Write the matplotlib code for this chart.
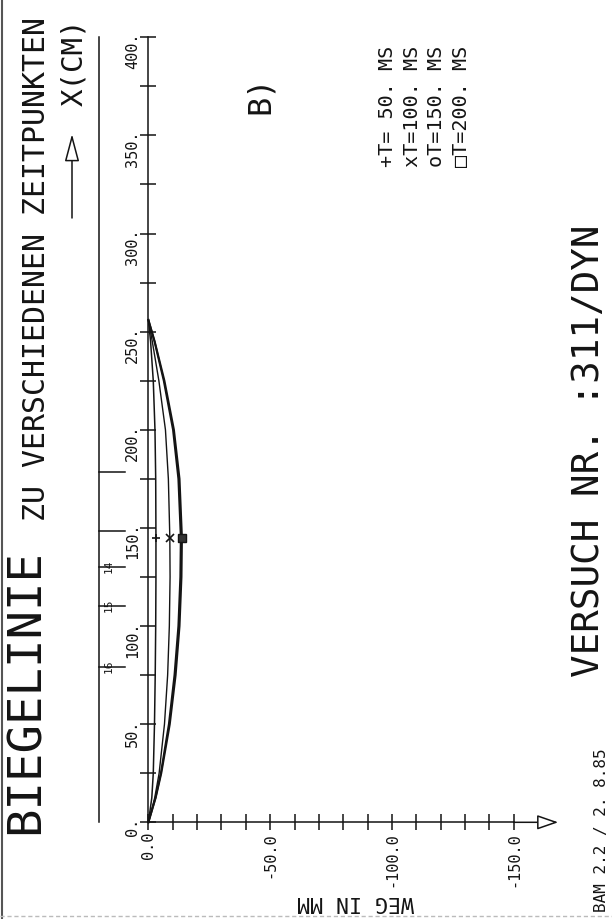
import matplotlib
matplotlib.use('Agg')
import matplotlib.pyplot as plt
from matplotlib import transforms

plt.rcParams['font.family'] = 'DejaVu Sans Mono'
INK = '#141414'

# beam position (cm) and deflection (mm)
X_CM = [0, 12.5, 25, 50, 75, 100, 125, 145, 175, 200, 225, 245, 256]
W_T50 = [0, -1.4, -2.0, -2.5, -2.8, -3.0, -3.1, -3.1, -3.0, -2.7, -2.0, -0.9, 0]
W_T100 = [0, -2.6, -4.4, -6.6, -7.9, -8.6, -8.9, -8.8, -8.2, -7.0, -4.3, -1.6, 0]
W_T150 = [0, -2.9, -5.1, -8.4, -10.7, -12.3, -13.1, -13.3, -12.3, -10.1, -6.3, -2.5, 0]
W_T200 = [0, -3.0, -5.3, -8.8, -11.2, -12.8, -13.6, -13.8, -12.8, -10.5, -6.6, -2.6, 0]

TIMES = [50, 100, 150, 200]
MARK_X = 145
MARK_W = [-3.1, -8.8, -13.3, -13.8]
MARKERS = ['+', 'x', 'o', 's']
LEGEND_SYMBOLS = ['+', 'x', 'o', '\u25a1']

X_TICKS = [0, 50, 100, 150, 200, 250, 300, 350, 400]
X_MINOR = [25, 75, 125, 175, 225, 275, 325, 375]
W_TICKS = [0, -50, -100, -150]
W_MINOR = [-10, -20, -30, -40, -60, -70, -80, -90, -110, -120, -130, -140]

# measuring points marked on the ruler beside the beam
GAUGE_X = [79, 110, 130, 148.5, 178.5]
GAUGE_LABELS = ['16', '15', '14', '', '']

W, H = 612, 920


def fp(x, y):
    # pixel position measured from top-left -> figure fraction
    return x / W, 1 - y / H


fig = plt.figure(figsize=(W / 100, H / 100), dpi=100)
fig.patch.set_facecolor('white')
ax = fig.add_axes([0, 0, 1, 1])
ax.set_facecolor('none')

# scale so that 0 mm / 0 cm sits at the plotted corner
x0_px, y0_px = 148.4, 823.3
px_mm, px_cm = 2.435, 1.9625
ax.set_xlim(x0_px / px_mm, (x0_px - W) / px_mm)
ax.set_ylim(-(H - y0_px) / px_cm, y0_px / px_cm)

# axes
for side in ['top', 'right']:
    ax.spines[side].set_visible(False)
ax.spines['left'].set_position(('data', 0))
ax.spines['bottom'].set_position(('data', 0))
ax.spines['left'].set_bounds(0, 400)
ax.spines['bottom'].set_bounds(-150, 0)
for side in ['left', 'bottom']:
    ax.spines[side].set_linewidth(1.1)
    ax.spines[side].set_color(INK)

ax.set_yticks(X_TICKS)
ax.set_yticks(X_MINOR, minor=True)
ax.set_yticklabels([f'{v:.0f}.' for v in X_TICKS])
ax.set_xticks(W_TICKS)
ax.set_xticks(W_MINOR, minor=True)
ax.set_xticklabels([f'{v:.1f}' for v in W_TICKS])
ax.tick_params(which='both', direction='inout', length=11.5, width=1.1,
               color=INK, labelcolor=INK, labelsize=11, pad=0.5)
ax.tick_params(axis='both', labelrotation=90)

ax.annotate('', xy=(-168.3, 0), xytext=(-150, 0),
            arrowprops=dict(arrowstyle='-|>,head_length=1.3,head_width=0.45',
                            fc='white', ec=INK, lw=1.1, shrinkA=0, shrinkB=0))

# deflection curves
for w, lw in zip([W_T50, W_T100, W_T150, W_T200], [1.1, 1.0, 1.4, 1.4]):
    ax.plot(w, X_CM, color=INK, lw=lw, solid_joinstyle='round')
for w, m in zip(MARK_W, MARKERS):
    if m == 's':
        ax.plot(w, MARK_X, marker=m, ms=5.5, color='#333333', mec=INK, ls='none')
    elif m == 'o':
        ax.plot(w, MARK_X, marker=m, ms=4, mfc='none', mec=INK, ls='none')
    else:
        ax.plot(w, MARK_X, marker=m, ms=5.5, mew=1.2, color=INK, ls='none')

# ruler with gauge positions
ruler = transforms.blended_transform_factory(fig.transFigure, ax.transData)
ax.plot([99.3 / W, 99.3 / W], [0, 400], color=INK, lw=1.1, transform=ruler)
for g, lab in zip(GAUGE_X, GAUGE_LABELS):
    ax.plot([99.3 / W, 125 / W], [g, g], color=INK, lw=1.1, transform=ruler)
    if lab:
        ax.text(109 / W, g + 1, lab, transform=ruler, rotation=90, fontsize=8,
                ha='center', va='center', color=INK)

# page texts
def rtext(x, y, s, size, **kw):
    fig.text(*fp(x, y), s, rotation=90, rotation_mode='anchor', ha='left',
             va='baseline', fontsize=size, color=INK, **kw)


rtext(39, 834, 'BIEGELINIE', 34)
rtext(45, 521, 'ZU VERSCHIEDENEN ZEITPUNKTEN', 21.5)
rtext(82, 106, 'X(CM)', 21)
rtext(269, 114, 'B)', 23)
for i, (sym, t) in enumerate(zip(LEGEND_SYMBOLS, TIMES)):
    rtext(393 + 24.7 * i, 167, f'{sym}T={t:3d}. MS', 14.5)
rtext(599, 677, 'VERSUCH NR. :311/DYN', 27)
rtext(606, 912, 'BAM 2.2 / 2. 8.85', 11.5)
fig.text(*fp(356, 902), 'WEG IN MM', rotation=180, ha='center', va='center',
         fontsize=15.5, color=INK)

# arrow next to X(CM)
ax.annotate('', xy=fp(72, 135), xytext=fp(72, 219), xycoords='figure fraction',
            textcoords='figure fraction',
            arrowprops=dict(arrowstyle='-|>,head_length=1.7,head_width=0.45',
                            fc='white', ec=INK, lw=1.1, shrinkA=0, shrinkB=0))

# scan edges
fig.add_artist(plt.Line2D([1.5 / W, 1.5 / W], [0, 1], color='#555555', lw=1.5,
                          transform=fig.transFigure))
fig.add_artist(plt.Line2D([0, 1], [1 - 917 / H, 1 - 917 / H], color='#bbbbbb',
                          lw=1, ls=(0, (3, 2)), transform=fig.transFigure))

fig.savefig('out.png', dpi=100, facecolor='white')
